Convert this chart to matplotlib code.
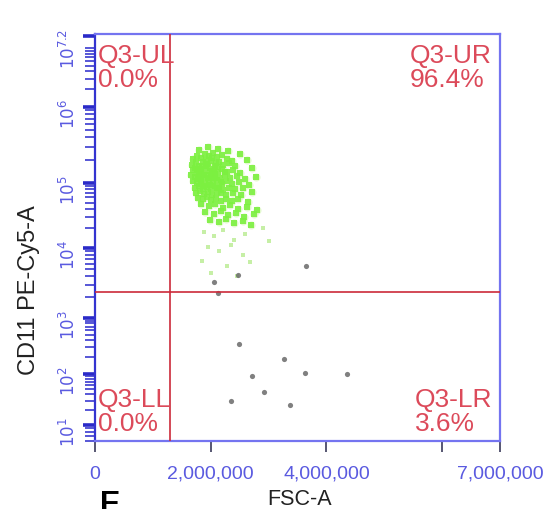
import matplotlib
matplotlib.use("Agg")
import matplotlib.pyplot as plt
import numpy as np
from matplotlib.ticker import FixedLocator, NullFormatter

# events: FSC-A in millions, CD11 PE-Cy5-A as log10 value
GREEN = [
    (1.70, 5.31), (1.76, 5.36), (1.83, 5.33), (1.90, 5.38), (1.97, 5.35), (2.04, 5.40), (2.11, 5.34),
    (2.19, 5.37), (2.28, 5.32), (2.36, 5.29),
    (1.67, 5.24), (1.74, 5.27), (1.80, 5.22), (1.87, 5.28), (1.93, 5.25), (2.00, 5.29), (2.07, 5.23),
    (2.14, 5.27), (2.22, 5.24), (2.31, 5.26), (2.42, 5.22),
    (1.69, 5.17), (1.77, 5.19), (1.84, 5.15), (1.91, 5.20), (1.98, 5.16), (2.05, 5.19), (2.12, 5.14),
    (2.20, 5.18), (2.29, 5.15), (2.39, 5.17), (2.51, 5.13),
    (1.66, 5.10), (1.73, 5.08), (1.80, 5.12), (1.86, 5.07), (1.94, 5.11), (2.01, 5.08), (2.08, 5.12),
    (2.16, 5.07), (2.25, 5.10), (2.34, 5.06), (2.46, 5.09), (2.60, 5.05),
    (1.70, 5.02), (1.77, 5.00), (1.84, 5.04), (1.90, 4.99), (1.97, 5.03), (2.04, 5.00), (2.11, 5.04),
    (2.19, 4.98), (2.27, 5.02), (2.37, 4.99), (2.49, 5.01), (2.67, 4.97),
    (1.72, 4.93), (1.79, 4.95), (1.86, 4.91), (1.93, 4.94), (2.00, 4.90), (2.07, 4.95), (2.14, 4.92),
    (2.22, 4.89), (2.31, 4.93), (2.42, 4.90), (2.56, 4.92),
    (1.75, 4.85), (1.82, 4.87), (1.89, 4.83), (1.96, 4.86), (2.03, 4.82), (2.10, 4.86), (2.18, 4.84),
    (2.27, 4.81), (2.38, 4.85), (2.52, 4.82), (2.71, 4.86),
    (1.78, 4.77), (1.86, 4.75), (1.94, 4.78), (2.01, 4.74), (2.09, 4.77), (2.17, 4.73), (2.26, 4.76),
    (2.36, 4.72), (2.48, 4.75), (2.64, 4.70),
    (1.81, 5.18), (1.88, 5.12), (1.95, 5.06), (2.02, 5.14), (1.85, 5.22), (1.92, 5.30), (2.09, 5.26),
    (1.78, 5.05), (1.99, 4.97), (2.06, 5.06), (1.76, 5.13), (2.13, 5.21), (1.89, 4.96), (2.17, 5.01),
    (1.73, 5.20), (2.24, 5.15), (1.96, 5.22), (1.83, 4.98), (2.03, 5.33), (2.10, 4.93),
    (1.84, 4.68), (1.97, 4.64), (2.08, 4.67), (2.21, 4.62), (2.33, 4.66), (2.47, 4.60), (2.62, 4.63),
    (2.80, 4.58), (1.90, 4.55), (2.05, 4.52), (2.18, 4.57), (2.30, 4.50), (2.44, 4.54), (2.58, 4.48),
    (2.74, 4.52), (1.98, 4.43), (2.14, 4.40), (2.27, 4.45), (2.40, 4.38), (2.55, 4.42), (2.70, 4.36),
    (1.80, 5.44), (1.95, 5.47), (2.12, 5.45), (2.30, 5.42), (2.50, 5.38), (2.62, 5.30), (2.72, 5.20),
    (2.78, 5.08),
]
SPARSE = [
    (1.88, 4.25), (2.05, 4.18), (2.22, 4.28), (2.40, 4.12), (2.60, 4.22), (1.95, 4.02), (2.15, 3.95),
    (2.35, 4.05), (2.55, 3.90), (1.85, 3.82), (2.28, 3.75), (2.68, 3.80), (2.00, 3.65), (2.45, 3.60),
    (2.90, 4.30), (3.00, 4.10),
]
GRAY = [
    (2.49, 2.54), (3.27, 2.27), (2.71, 1.96), (3.63, 2.02), (4.35, 2.00), (2.92, 1.65), (2.35, 1.47),
    (3.37, 1.39), (3.65, 3.74), (2.47, 3.61), (2.05, 3.51), (2.12, 3.36),
]

GATE_X = 1.30e6
GATE_Y = 10 ** 3.37

QUAD_NAMES = ["Q3-UL", "Q3-UR", "Q3-LL", "Q3-LR"]
QUAD_PCT = ["0.0%", "96.4%", "0.0%", "3.6%"]

X_TICKS = [0, 2e6, 4e6, 6e6, 7e6]
X_LABELS = ["0", "2,000,000", "4,000,000", "", "7,000,000"]
Y_EXP = [1, 2, 3, 4, 5, 6, 7.2]

# display scale of the cytometer axis (roughly logicle-shaped)
LOGS = [0.5, 1, 2, 3, 4, 5, 6, 7.2, 7.5]
POS = [-20, 16, 67, 123, 193, 258, 334, 405, 423]


def fwd(y):
    y = np.clip(np.asarray(y, dtype=float), 1e-3, None)
    return np.interp(np.log10(y), LOGS, POS)


def inv(p):
    return 10 ** np.interp(p, POS, LOGS)


plt.rcParams["font.family"] = ["Liberation Sans", "DejaVu Sans"]

fig = plt.figure(figsize=(5.56, 5.10), dpi=100)
ax = fig.add_axes([95 / 556, 68 / 510, 405 / 556, 407 / 510])
ax.set_yscale("function", functions=(fwd, inv))

g = np.array(GREEN)
s = np.array(SPARSE)
k = np.array(GRAY)
ax.scatter(g[:, 0] * 1e6, 10 ** g[:, 1], s=34, marker="o", color="#c8f4a0",
           linewidths=0, alpha=0.5, zorder=2)
ax.scatter(g[:, 0] * 1e6, 10 ** g[:, 1], s=18, marker="s", color="#7cf040",
           linewidths=0, alpha=0.9, zorder=2)
ax.scatter(s[:, 0] * 1e6, 10 ** s[:, 1], s=7, marker="s", color="#b8ec90",
           linewidths=0, alpha=0.8, zorder=2)
ax.scatter(k[:, 0] * 1e6, 10 ** k[:, 1], s=14, color="#6a6a6a",
           linewidths=0, alpha=0.85, zorder=3)

ax.axvline(GATE_X, color="#cc2a3a", lw=1.2, zorder=4)
ax.axhline(GATE_Y, color="#cc2a3a", lw=1.2, zorder=4)

ax.set_xlim(0, 7e6)
ax.set_ylim(10 ** 0.778, 10 ** 7.233)

ax.xaxis.set_major_locator(FixedLocator(X_TICKS))
ax.set_xticklabels(X_LABELS)
ax.yaxis.set_major_locator(FixedLocator([10 ** e for e in Y_EXP]))
ax.set_yticklabels([f"$10^{{{e:g}}}$" for e in Y_EXP])
minors = [m * 10 ** d for d in range(0, 7) for m in range(2, 10)] + [1e7]
ax.yaxis.set_minor_locator(FixedLocator(minors))
ax.yaxis.set_minor_formatter(NullFormatter())
ax.xaxis.set_minor_locator(FixedLocator([]))

ax.tick_params(axis="x", which="major", length=8, width=1.2, color="#3a3a5a",
               labelcolor="#5a5ae0", labelsize=14, pad=9)
ax.tick_params(axis="y", which="major", length=9, width=2.6, color="#2a2ac8",
               labelcolor="#5a5ae0", labelsize=12, labelrotation=90, pad=3)
ax.tick_params(axis="y", which="minor", length=7, width=1.2, color="#3a3ad0")

for side in ("top", "right", "bottom"):
    ax.spines[side].set_color("#7474f0")
    ax.spines[side].set_linewidth(1.6)
ax.spines["left"].set_color("#3434d0")
ax.spines["left"].set_linewidth(1.6)

ax.set_xlabel("FSC-A", fontsize=15.5, color="#222222")
ax.xaxis.set_label_coords(0.506, -0.1425)
ax.xaxis.label.set_va("center")
ax.set_ylabel("CD11 PE-Cy5-A", fontsize=17, color="#222222")
ax.yaxis.set_label_coords(-0.136, 0.373)

qcolor = "#dc4a5a"
qpos = [(98, 44), (410, 44), (98, 388), (415, 388)]
for (px, py), name, pct in zip(qpos, QUAD_NAMES, QUAD_PCT):
    x = (px - 95) / 405
    y = (442 - py) / 407
    ax.text(x, y, name, transform=ax.transAxes, fontsize=19, color=qcolor,
            va="top", ha="left", zorder=5)
    ax.text(x, y - 24 / 407, pct, transform=ax.transAxes, fontsize=19,
            color=qcolor, va="top", ha="left", zorder=5)

fig.text(100 / 556, 1 - 490 / 510, "E", fontsize=22, fontweight="bold",
         color="black", va="top", ha="left")

fig.savefig("out.png", dpi=100)
